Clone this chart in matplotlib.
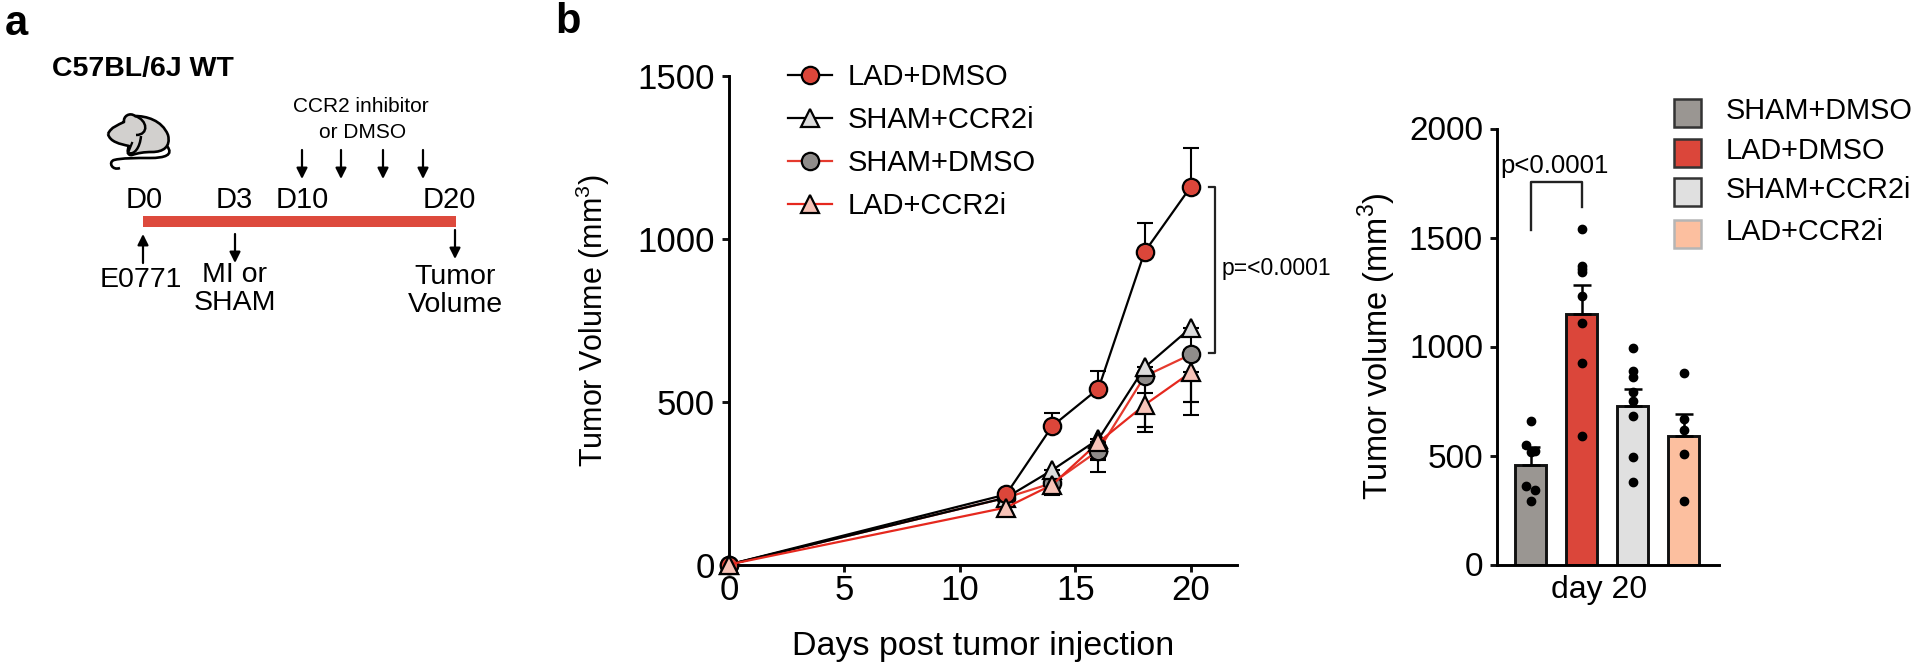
import matplotlib
matplotlib.use("Agg")
import matplotlib.pyplot as plt
from matplotlib.patches import PathPatch, Rectangle
from matplotlib.path import Path

plt.rcParams["font.family"] = ["Liberation Sans", "DejaVu Sans"]
plt.rcParams["mathtext.fontset"] = "custom"
plt.rcParams["mathtext.rm"] = "Liberation Sans"

W, H = 1920, 669

# line chart data
days = [0, 12, 14, 16, 18, 20]
lad_dmso = [0, 215, 425, 540, 960, 1160]
lad_dmso_up = [0, 0, 40, 55, 90, 120]
sham_ccr2i = [0, 205, 290, 385, 605, 727]
sham_ccr2i_lo = [0, 0, 50, 63, 184, 227]
sham_dmso = [0, 205, 250, 350, 578, 645]
sham_dmso_lo = [0, 0, 37, 65, 170, 185]
sham_dmso_up = [0, 0, 0, 0, 0, 14]
lad_ccr2i = [0, 175, 245, 375, 490, 590]
lad_ccr2i_lo = [0, 0, 30, 50, 69, 90]
lad_ccr2i_up = [0, 0, 0, 0, 38, 0]

# bar chart data
groups = ["SHAM+DMSO", "LAD+DMSO", "SHAM+CCR2i", "LAD+CCR2i"]
means = [458, 1151, 727, 588]
sems = [79, 129, 79, 103]
pts_x = [[1, 0.91, 1.09, 1, 0.91, 1.09, 1],
         [2, 2, 2, 2, 2, 2, 2, 2],
         [3, 3, 3, 3, 3, 3, 3, 3],
         [4, 4, 4, 4, 4]]
pts_y = [[656, 549, 522, 514, 359, 343, 292],
         [1541, 1367, 1355, 1344, 1230, 1107, 925, 588],
         [993, 889, 862, 790, 751, 683, 495, 378],
         [877, 667, 617, 509, 292]]
bar_colors = ["#9a9692", "#db463a", "#e0e0e0", "#fcbf9f"]
legend_edges = ["#333333", "#333333", "#333333", "#b5b5b5"]

fig = plt.figure(figsize=(W / 100, H / 100), dpi=100)


def make_axes(x0, x1, y_top, y_bot):
    return fig.add_axes([x0 / W, 1 - y_bot / H, (x1 - x0) / W, (y_bot - y_top) / H])


def style(ax, size):
    ax.spines["top"].set_visible(False)
    ax.spines["right"].set_visible(False)
    ax.spines["left"].set_linewidth(2.1)
    ax.spines["bottom"].set_linewidth(2.1)
    ax.tick_params(width=2.1, length=5, labelsize=size, pad=5, color="#111111")


# panel b, lines
ax1 = make_axes(729, 1237, 76, 564.5)
style(ax1, 25)
ax1.tick_params(axis="x", pad=2)
ax1.set_xlim(0, 22)
ax1.set_ylim(0, 1500)
ax1.set_xticks([0, 5, 10, 15, 20])
ax1.set_yticks([0, 500, 1000, 1500])
ax1.set_xlabel("Days post tumor injection", fontsize=24.5, labelpad=17)
ax1.set_ylabel("Tumor Volume (mm$^3$)", fontsize=22, labelpad=18.5)

ebar = dict(fmt="none", ecolor="black", elinewidth=1.5, capsize=6, capthick=1.5)
ax1.errorbar(days[2:], lad_ccr2i[2:], yerr=[lad_ccr2i_lo[2:], lad_ccr2i_up[2:]], **ebar)
ax1.errorbar(days[2:], sham_dmso[2:], yerr=[sham_dmso_lo[2:], sham_dmso_up[2:]], **ebar)
ax1.errorbar(days[2:], lad_dmso[2:], yerr=[[0] * 4, lad_dmso_up[2:]], **ebar)
ax1.errorbar(days[2:], sham_ccr2i[2:], yerr=[sham_ccr2i_lo[2:], [0] * 4], **ebar)

l2, = ax1.plot(days, sham_dmso, "-o", c="#e53a2e", lw=1.6, ms=12.5, mfc="#8f8c8a", mec="black",
               mew=1.6, clip_on=False, label="SHAM+DMSO", zorder=3)
l1, = ax1.plot(days, sham_ccr2i, "-^", c="black", lw=1.6, ms=13.5, mfc="#dcdcdc", mec="black",
               mew=1.6, clip_on=False, label="SHAM+CCR2i", zorder=3.2)
l3, = ax1.plot(days, lad_dmso, "-o", c="black", lw=1.6, ms=12.5, mfc="#db463a", mec="black",
               mew=1.6, clip_on=False, label="LAD+DMSO", zorder=3.4)
l4, = ax1.plot(days, lad_ccr2i, "-^", c="#e5281e", lw=1.6, ms=13.5, mfc="#f7c3b8", mec="black",
               mew=1.6, clip_on=False, label="LAD+CCR2i", zorder=3.6)

ax1.legend(handles=[l3, l1, l2, l4], loc="upper left", bbox_to_anchor=(0.116, 1.027), frameon=False,
           fontsize=21, labelspacing=0.52, handlelength=1.5, handletextpad=0.55,
           borderpad=0, borderaxespad=0)

# panel b, bars
ax2 = make_axes(1497, 1719, 128.5, 564.5)
style(ax2, 24)
ax2.set_xlim(0.343, 4.69)
ax2.set_ylim(0, 2000)
ax2.set_yticks([0, 500, 1000, 1500, 2000])
ax2.set_xticks([])
ax2.set_ylabel("Tumor volume (mm$^3$)", fontsize=23.5, labelpad=8)
ax2.text(2.34, -50, "day 20", fontsize=23, ha="center", va="top")

xpos = [1, 2, 3, 4]
ax2.bar(xpos, means, width=0.6, color=bar_colors, edgecolor="#111111", linewidth=2.1)
ax2.errorbar(xpos, means, yerr=[[0] * 4, sems], fmt="none", ecolor="black", elinewidth=1.8,
             capsize=6.5, capthick=1.8)
for i in range(4):
    ax2.scatter(pts_x[i], pts_y[i], s=36, c="black", zorder=4, clip_on=False)

ax2.plot([1, 1, 2, 2], [1535, 1755, 1755, 1640], c="#222222", lw=1.7)
ax2.text(1.47, 1775, "p<0.0001", fontsize=18.5, ha="center", va="bottom")

# everything else on a full figure layer in pixels
ov = fig.add_axes([0, 0, 1, 1])
ov.set_xlim(0, W)
ov.set_ylim(H, 0)
ov.axis("off")
ov.patch.set_alpha(0)

ov.text(5, 24, "a", fontsize=30, fontweight="bold", ha="left", va="center")
ov.text(555, 22, "b", fontsize=30, fontweight="bold", ha="left", va="center")
ov.text(52, 69, "C57BL/6J WT", fontsize=20.5, fontweight="bold", ha="left", va="center")

ov.text(361, 107, "CCR2 inhibitor", fontsize=15, ha="center", va="center")
ov.text(363, 132, "or DMSO", fontsize=15, ha="center", va="center")
for lab, xp in zip(["D0", "D3", "D10", "D20"], [144, 234, 302, 449]):
    ov.text(xp, 200, lab, fontsize=21, ha="center", va="center")
ov.add_patch(Rectangle((143, 216), 313, 11, color="#dd4a3d", lw=0))

arrow = dict(arrowstyle="-|>", color="black", lw=1.6, mutation_scale=16, shrinkA=0, shrinkB=0)
for xp in [302, 341, 383, 423]:
    ov.annotate("", xy=(xp, 179), xytext=(xp, 150), arrowprops=arrow)
ov.annotate("", xy=(143, 234), xytext=(143, 263), arrowprops=arrow)
ov.annotate("", xy=(235, 263), xytext=(235, 234), arrowprops=arrow)
ov.annotate("", xy=(455, 259), xytext=(455, 230), arrowprops=arrow)

ov.text(141, 280, "E0771", fontsize=20.5, ha="center", va="center")
ov.text(235, 275, "MI or", fontsize=20.5, ha="center", va="center")
ov.text(235, 303, "SHAM", fontsize=20.5, ha="center", va="center")
ov.text(455, 277, "Tumor", fontsize=20.5, ha="center", va="center")
ov.text(455, 305, "Volume", fontsize=20.5, ha="center", va="center")

# mouse icon
C = Path.CURVE4
body = Path([(108, 134), (111, 127), (118, 125), (124, 122),
             (123, 116), (130, 112), (135, 116),
             (146, 116), (162, 120), (168, 135),
             (171, 147), (163, 152), (152, 152),
             (144, 152), (138, 153), (132, 155),
             (127, 156), (127, 150), (129, 146),
             (120, 144), (110, 142), (108, 134)],
            [Path.MOVETO, C, C, C, C, C, C, C, C, C, C, C, C, C, C, C, C, C, C, C, C, C])
ov.add_patch(PathPatch(body, fc="#d2d0ce", ec="black", lw=1.9, joinstyle="round"))
tail = Path([(167, 146), (174, 155), (165, 158), (150, 158),
             (135, 158), (122, 158), (114, 160),
             (108, 162), (112, 171), (120, 168)],
            [Path.MOVETO, C, C, C, C, C, C, C, C, C])
ov.add_patch(PathPatch(tail, fc="none", ec="black", lw=1.9))
arm = Path([(135, 116), (148, 120), (149, 135), (136, 135)], [Path.MOVETO, C, C, C])
ov.add_patch(PathPatch(arm, fc="none", ec="black", lw=1.8))
leg = Path([(141, 136), (140, 148), (134, 155), (129, 153)], [Path.MOVETO, C, C, C])
ov.add_patch(PathPatch(leg, fc="none", ec="black", lw=1.8))
ov.plot([132, 128], [143, 153], c="black", lw=1.6)

# p value bracket, line chart
ov.plot([1209, 1215, 1215, 1209], [187, 187, 353, 353], c="#222222", lw=1.6)
ov.text(1222, 268, "p=<0.0001", fontsize=16.5, ha="left", va="center")

# bar legend
for name, col, ec, yc in zip(groups, bar_colors, legend_edges, [113, 153, 192, 234]):
    ov.add_patch(Rectangle((1674, yc - 14), 27, 28, fc=col, ec=ec, lw=1.8))
    ov.text(1726, yc - 2, name, fontsize=20.8, ha="left", va="center")

fig.savefig("out.png", dpi=100)
